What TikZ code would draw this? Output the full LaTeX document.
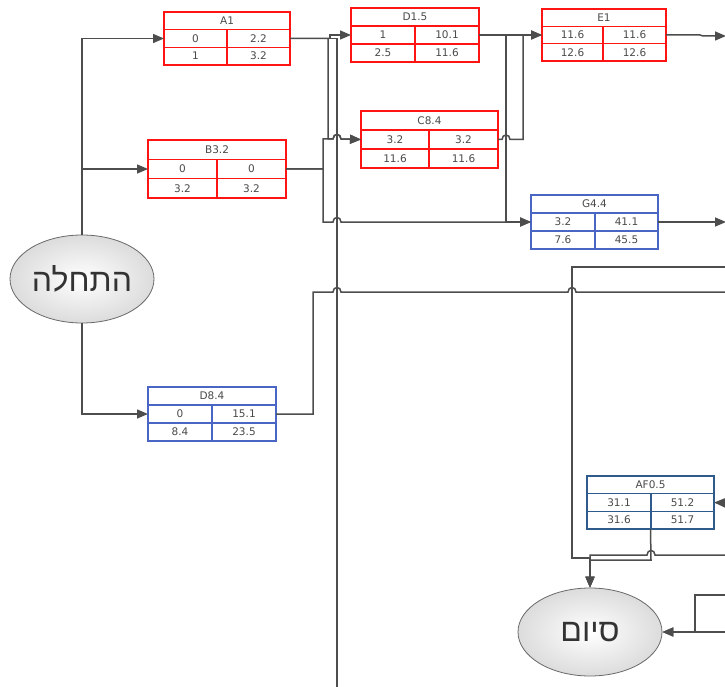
\documentclass[tikz,border=0pt]{standalone}
\usepackage{fontspec}
\setmainfont{DejaVu Sans}
\newfontfamily\hebfont[Script=Hebrew]{Liberation Sans}
\TeXXeTstate=1
\usetikzlibrary{arrows.meta,shapes.geometric,calc}

\definecolor{lineg}{HTML}{4D4D4D}
\definecolor{txtg}{HTML}{4A4A4A}
\definecolor{redb}{HTML}{FF1414}
\definecolor{blueb}{HTML}{4A66C4}
\definecolor{steelb}{HTML}{2F5B8C}
\definecolor{ellf}{HTML}{DCDCDC}
\definecolor{elld}{HTML}{6A6A6A}

\tikzset{
  boxframe/.style={rectangle, line width=1.6pt, inner sep=0pt, outer sep=0pt},
  boxline/.style={line width=1.6pt},
  celltext/.style={text=txtg, font=\fontsize{10.5}{12}\selectfont, inner sep=0pt},
  conn/.style={draw=lineg, line width=1.5pt, -{Triangle[length=11pt,width=9pt]}},
  plain/.style={draw=lineg, line width=1.5pt},
  terminal/.style={ellipse, draw=elld, line width=0.8pt, shading=radial, inner color=white, outer color=ellf,
     minimum width=144pt, minimum height=88pt, inner sep=0pt, font=\hebfont\fontsize{32}{34}\selectfont, text=black!80}
}

\def\parsegeo#1/#2/#3/#4/#5\relax{\def\gxa{#1}\def\gya{#2}\def\gxb{#3}\def\gyb{#4}\def\gxc{#5}}

% #1 name, #2 x1/y1/x2/y2/xc, #3 title, #4-#7 cells, #8 colour
\newcommand\actbox[8]{%
 \parsegeo#2\relax
 \node[boxframe, draw=#8, minimum width={(\gxb-\gxa)*1pt}, minimum height={(\gyb-\gya)*1pt}, anchor=north west] (#1) at (\gxa,\gya) {};
 \draw[draw=#8, boxline] (\gxa,{\gya+(\gyb-\gya)/3}) -- (\gxb,{\gya+(\gyb-\gya)/3});
 \draw[draw=#8, boxline] (\gxa,{\gya+2*(\gyb-\gya)/3}) -- (\gxb,{\gya+2*(\gyb-\gya)/3});
 \draw[draw=#8, boxline] (\gxc,{\gya+(\gyb-\gya)/3}) -- (\gxc,\gyb);
 \node[celltext] (#1-t) at ({(\gxa+\gxb)/2},{\gya+(\gyb-\gya)/6}) {#3};
 \node[celltext] (#1-a) at ({(\gxa+\gxc)/2},{\gya+(\gyb-\gya)/2}) {#4};
 \node[celltext] (#1-b) at ({(\gxc+\gxb)/2},{\gya+(\gyb-\gya)/2}) {#5};
 \node[celltext] (#1-c) at ({(\gxa+\gxc)/2},{\gya+5*(\gyb-\gya)/6}) {#6};
 \node[celltext] (#1-d) at ({(\gxc+\gxb)/2},{\gya+5*(\gyb-\gya)/6}) {#7};
}

% hop over a vertical line at x=#1 on a horizontal line at y=#2
\newcommand\hopx[2]{-- ({#1-4},#2) .. controls ({#1-4},{#2-6}) and ({#1+4},{#2-6}) .. ({#1+4},#2)}
\newcommand\hopl[2]{-- ({#1+4},#2) .. controls ({#1+4},{#2-6}) and ({#1-4},{#2-6}) .. ({#1-4},#2)}

\begin{document}
\begin{tikzpicture}[x=1pt, y=-1pt]
\useasboundingbox[fill=white] (0,0) rectangle (725,687);

% terminals
\node[terminal] (start) at (82,279) {\beginR התחלה\endR};
\node[terminal] (end) at (590,632) {\beginR סיום\endR};

% activity boxes
\actbox{A1}{164/12/290/65/227}{A1}{0}{2.2}{1}{3.2}{redb}
\actbox{D15}{351/8/479/62/415}{D1.5}{1}{10.1}{2.5}{11.6}{redb}
\actbox{E1}{542/9/666/61/603}{E1}{11.6}{11.6}{12.6}{12.6}{redb}
\actbox{B32}{148/140/286/198/217}{B3.2}{0}{0}{3.2}{3.2}{redb}
\actbox{C84}{361/111/498/168/429}{C8.4}{3.2}{3.2}{11.6}{11.6}{redb}
\actbox{G44}{531/195/658/249/595}{G4.4}{3.2}{41.1}{7.6}{45.5}{blueb}
\actbox{D84}{148/387/276/441/212}{D8.4}{0}{15.1}{8.4}{23.5}{blueb}
\actbox{AF05}{587/476/714/529/651}{AF0.5}{31.1}{51.2}{31.6}{51.7}{steelb}

% free ends at the right and bottom edges
\coordinate (rE1) at (726,36);
\coordinate (rG44) at (726,222);
\coordinate (r267) at (730,267);
\coordinate (r292) at (730,292);
\coordinate (rAF) at (730,503);
\coordinate (r555) at (730,555);
\coordinate (r595) at (730,595);
\coordinate (r632) at (730,632);
\coordinate (bot) at (337,690);

% from start
\draw[conn] (start.north) |- (A1.west);
\draw[conn] (start.north) |- (B32.west);
\draw[conn] (start.south) |- (D84.west);

% from A1
\draw[plain] (A1.east) -| (bot);
\draw[conn] (A1.east) -- (330,38.5) |- (D15.west);
\draw[conn] (A1.east) -| (328,139) \hopx{337}{139} -- (C84.west);

% from B3.2
\draw[conn] (B32.east) -| (323,139) \hopx{337}{139} -- (C84.west);
\draw[conn] (B32.east) -| (323,222) \hopx{337}{222} -- (G44.west);

% from D1.5
\draw[conn] (D15.east) -- (E1.west);
\draw[conn] (D15.east) -| (506,222) -- (G44.west);

% from C8.4
\draw[conn] (C84.east) \hopx{506}{139.5} -| (523,35) -- (E1.west);

% from E1, G4.4
\draw[conn] (E1.east) -- (700,35) -- (703,36) -- (rE1);
\draw[conn] (G44.east) -- (rG44);

% from D8.4
\draw[plain] (D84.east) -- (313,414) -- (313,292) \hopx{337}{292} \hopx{572}{292} -- (r292);

% into end
\draw[conn] (r267) -- (572,267) -- (572,558) -| (end.north);
\draw[conn] (AF05.south) -- (651,560) -| (end.north);
\draw[conn] (r555) \hopl{651}{555} -| (end.north);
\draw[conn] (r595) -- (695,595) |- (end.east);
\draw[conn] (r632) -- (end.east);

% into AF0.5
\draw[conn] (rAF) -- (AF05.east);
\end{tikzpicture}
\end{document}
